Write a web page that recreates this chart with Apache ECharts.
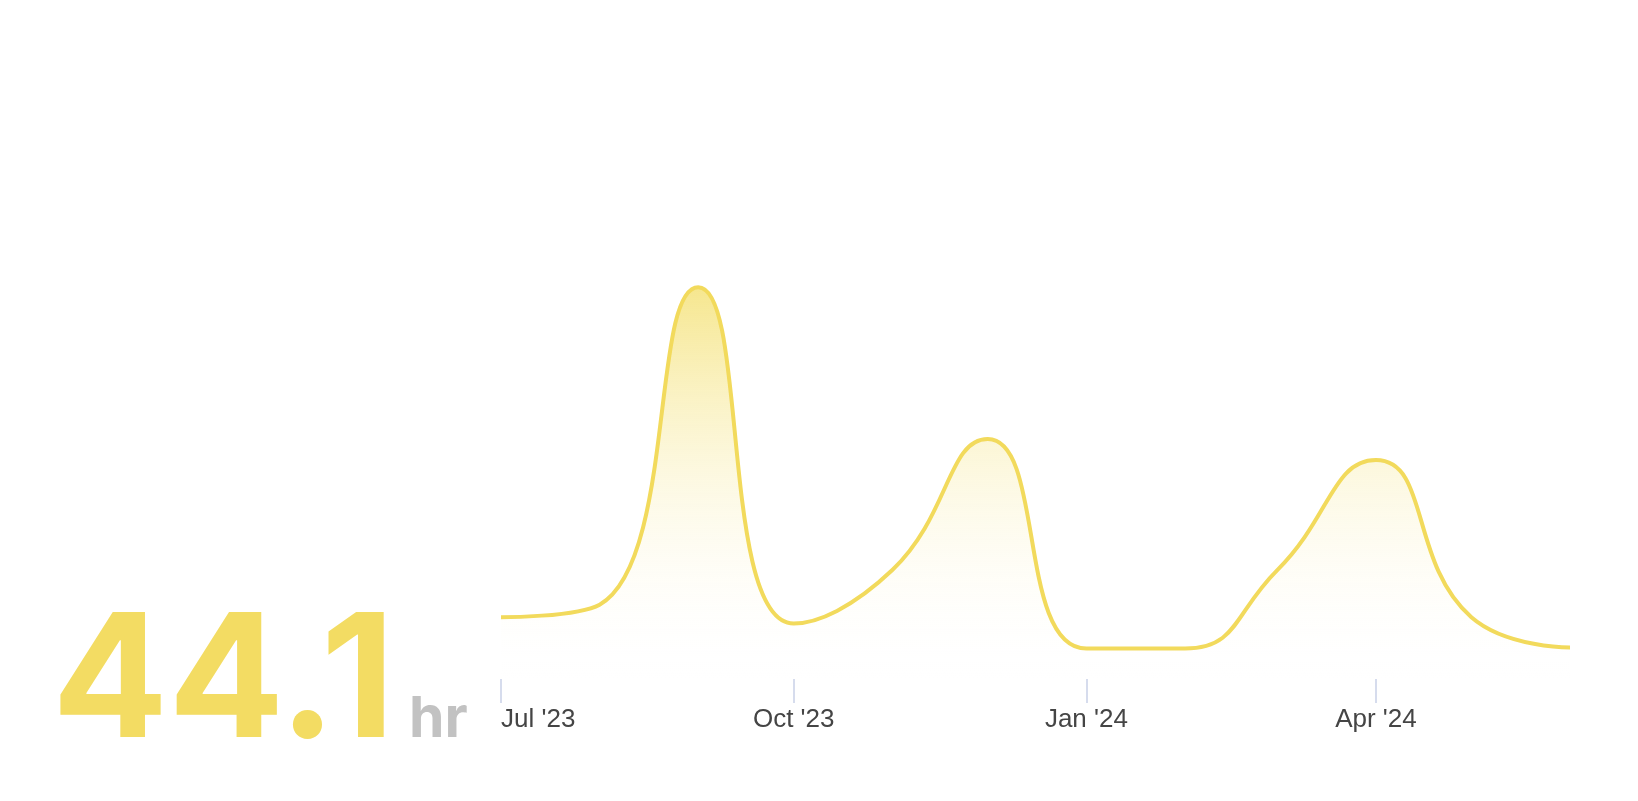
<!DOCTYPE html>
<html>
<head>
<meta charset="utf-8">
<script src="https://cdn.jsdelivr.net/npm/echarts@6/dist/echarts.min.js"></script>
<style>
  html, body { margin: 0; padding: 0; background: #fff; }
  #main { width: 1638px; height: 801px; }
</style>
</head>
<body>
<div id="main"></div>
<script>
// monthly totals, hours
var months = ['2023-07', '2023-08', '2023-09', '2023-10', '2023-11', '2023-12',
              '2024-01', '2024-02', '2024-03', '2024-04', '2024-05', '2024-06'];
var hours = [2.95, 3.55, 18.7, 2.65, 5.2, 11.45, 1.45, 1.45, 5.2, 10.45, 2.95, 1.5];
var tickMonths = ['2023-07', '2023-10', '2024-01', '2024-04'];
var monthNames = ['Jan', 'Feb', 'Mar', 'Apr', 'May', 'Jun', 'Jul', 'Aug', 'Sep', 'Oct', 'Nov', 'Dec'];
var totalText = '44.1';
var unitText = 'hr';

function toTime(m) {
    var p = m.split('-');
    return new Date(+p[0], +p[1] - 1, 1).getTime();
}

var myChart = echarts.init(document.getElementById('main'));
var seriesData = [];
for (var i = 0; i < months.length; i++) {
    seriesData.push([toTime(months[i]), hours[i]]);
}
var ticks = tickMonths.map(toTime);

var option = {
    animation: false,
    grid: { left: 501, right: 68, top: 260, bottom: 122 },
    xAxis: {
        type: 'value',
        min: toTime(months[0]),
        max: toTime(months[months.length - 1]),
        axisLine: { show: false },
        splitLine: { show: false },
        axisTick: {
            show: true,
            customValues: ticks,
            length: 24,
            lineStyle: { color: '#c9d1e8', width: 1.5 }
        },
        axisLabel: {
            customValues: ticks,
            margin: 28,
            alignMinLabel: 'left',
            color: '#454545',
            fontSize: 26,
            fontFamily: 'Liberation Sans, Arial, sans-serif',
            formatter: function (v) {
                var d = new Date(v);
                return monthNames[d.getMonth()] + " '" + String(d.getFullYear()).slice(2);
            }
        }
    },
    yAxis: {
        type: 'value',
        min: 0,
        max: 20,
        show: false
    },
    graphic: [
        {
            type: 'text',
            left: 52,
            top: 599,
            style: {
                text: totalText,
                font: 'bold 172px Inter, Roboto, sans-serif',
                fill: '#f3dc63'
            }
        },
        {
            type: 'text',
            left: 409,
            top: 691,
            style: {
                text: unitText,
                font: 'bold 57px Inter, Roboto, sans-serif',
                fill: '#c2c2c2'
            }
        }
    ],
    series: [{
        type: 'line',
        data: seriesData,
        smooth: 0.5,
        symbol: 'none',
        lineStyle: { color: '#f2da5c', width: 4 },
        areaStyle: {
            color: new echarts.graphic.LinearGradient(0, 0, 0, 1, [
                { offset: 0, color: 'rgba(242, 220, 94, 1)' },
                { offset: 1, color: 'rgba(255, 255, 255, 0)' }
            ])
        }
    }]
};

myChart.setOption(option);
</script>
</body>
</html>
